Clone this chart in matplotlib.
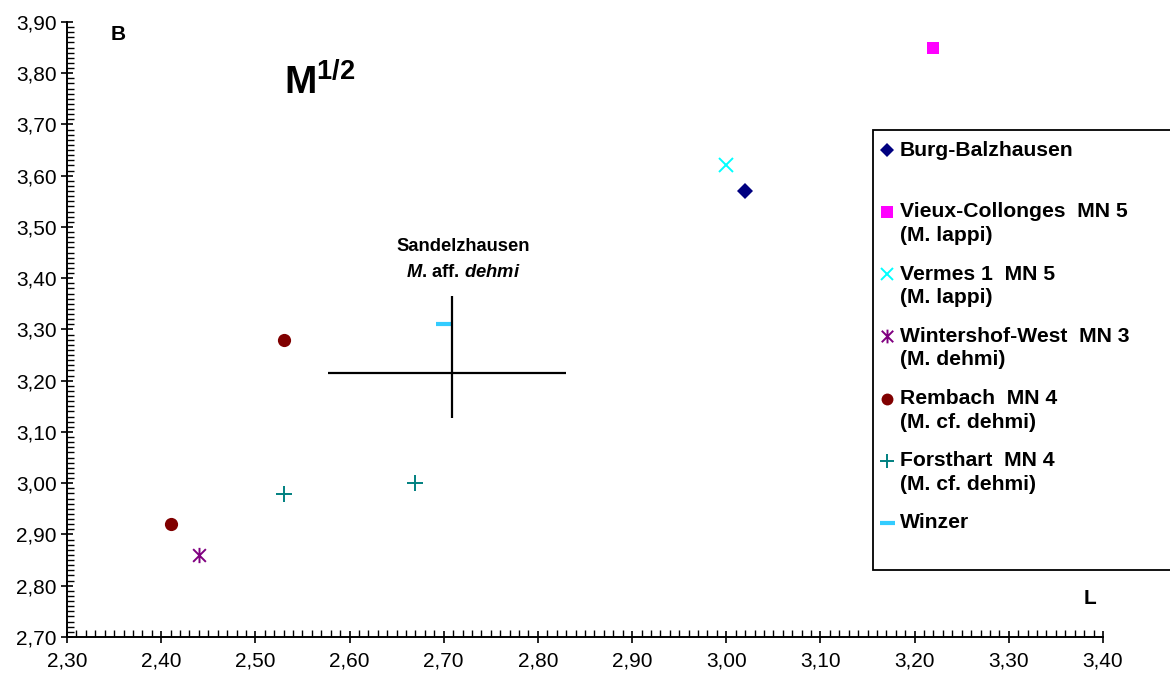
import matplotlib
matplotlib.use("Agg")
import matplotlib.pyplot as plt
from matplotlib.ticker import MultipleLocator, FuncFormatter
from matplotlib.lines import Line2D
from matplotlib.patches import Rectangle
from matplotlib.path import Path

plt.rcParams['font.family'] = ['Liberation Sans', 'DejaVu Sans']
plt.rcParams['mathtext.fontset'] = 'custom'
plt.rcParams['mathtext.rm'] = 'Liberation Sans'
plt.rcParams['mathtext.bf'] = 'Liberation Sans:bold'
plt.rcParams['mathtext.it'] = 'Liberation Sans:italic:bold'

# data (L, B) per locality
burg_x = [3.02]
burg_y = [3.57]
vieux_x = [3.22]
vieux_y = [3.85]
vermes_x = [3.00]
vermes_y = [3.62]
winters_x = [2.44]
winters_y = [2.86]
rembach_x = [2.41, 2.53]
rembach_y = [2.92, 3.28]
forst_x = [2.53, 2.67]
forst_y = [2.98, 3.00]
winzer_x = [2.70]
winzer_y = [3.31]

# Sandelzhausen range cross
sandel_x = 2.709
sandel_y = 3.215
sandel_xerr_low = 0.132
sandel_xerr_high = 0.121
sandel_yerr_low = 0.087
sandel_yerr_high = 0.15

labels = ["Burg-Balzhausen",
          "Vieux-Collonges  MN 5\n(M. lappi)",
          "Vermes 1  MN 5\n(M. lappi)",
          "Wintershof-West  MN 3\n(M. dehmi)",
          "Rembach  MN 4\n(M. cf. dehmi)",
          "Forsthart  MN 4\n(M. cf. dehmi)",
          "Winzer"]

# asterisk marker: X plus vertical bar
ast = Path([(-1, -1), (1, 1), (-1, 1), (1, -1), (0, -1.2), (0, 1.2)],
           [Path.MOVETO, Path.LINETO, Path.MOVETO, Path.LINETO, Path.MOVETO, Path.LINETO])

series = [
    (burg_x, burg_y, dict(marker='D', color='#000080', ms=8, mew=0)),
    (vieux_x, vieux_y, dict(marker='s', color='#FF00FF', ms=9, mew=0)),
    (vermes_x, vermes_y, dict(marker='x', color='#00FFFF', ms=10, mew=1.4)),
    (winters_x, winters_y, dict(marker=ast, color='#800080', ms=11, mew=1.4)),
    (rembach_x, rembach_y, dict(marker='o', color='#800000', ms=9.5, mew=0)),
    (forst_x, forst_y, dict(marker='+', color='#008080', ms=11, mew=1.4)),
    (winzer_x, winzer_y, dict(marker='_', color='#33CCFF', ms=12, mew=3)),
]

W, H = 1170, 677
fig = plt.figure(figsize=(W / 100, H / 100), dpi=100)
ax = fig.add_axes([67 / W, 1 - 637 / H, (1103 - 67) / W, (637 - 22) / H])


def px(x, y):
    return x / W, 1 - y / H


for xs, ys, st in series:
    ax.plot(xs, ys, linestyle='none', **st)

ax.errorbar([sandel_x], [sandel_y], xerr=[[sandel_xerr_low], [sandel_xerr_high]],
            yerr=[[sandel_yerr_low], [sandel_yerr_high]],
            fmt='none', ecolor='black', elinewidth=1.6, capsize=0)

ax.set_xlim(2.30, 3.40)
ax.set_ylim(2.70, 3.90)
ax.xaxis.set_major_locator(MultipleLocator(0.1))
ax.yaxis.set_major_locator(MultipleLocator(0.1))
ax.xaxis.set_minor_locator(MultipleLocator(0.01))
ax.yaxis.set_minor_locator(MultipleLocator(0.01))
fmt = FuncFormatter(lambda v, p: f"{v:.2f}".replace('.', ','))
ax.xaxis.set_major_formatter(fmt)
ax.yaxis.set_major_formatter(fmt)
ax.tick_params(which='major', direction='inout', length=9, width=1.2, labelsize=15)
ax.tick_params(which='minor', direction='in', length=5, width=1.0)
ax.tick_params(axis='x', which='major', pad=6)
ax.tick_params(axis='y', which='major', pad=3)
for s in ['top', 'right']:
    ax.spines[s].set_visible(False)
for s in ['left', 'bottom']:
    ax.spines[s].set_linewidth(1.4)

ax.text(2.354, 3.875, "B", fontsize=15, fontweight='bold', ha='center', va='center')
ax.text(3.386, 2.776, "L", fontsize=15, fontweight='bold', ha='center', va='center')
ax.text(2.530, 3.781, r"M$^{\mathbf{1/2}}$", fontsize=28, fontweight='bold', ha='left', va='center')
ax.text(2.721, 3.461, "Sandelzhausen", fontsize=13.2, fontweight='bold', ha='center', va='center')
ax.text(2.721, 3.412, r"$M$. aff. $dehmi$", fontsize=13.2, fontweight='bold', ha='center', va='center')

# legend box
fig.add_artist(Rectangle(px(873, 570), (1190 - 873) / W, 440 / H, transform=fig.transFigure,
                         facecolor='white', edgecolor='black', lw=1.3, clip_on=False))
for i, (lab, (xs, ys, st)) in enumerate(zip(labels, series)):
    yrow = 150 if i == 0 else 212 + (i - 1) * 62.2
    lst = dict(st)
    lst['ms'] = lst['ms'] * 0.9
    fig.add_artist(Line2D([px(887, yrow)[0]], [px(887, yrow)[1]], transform=fig.transFigure,
                          linestyle='none', **lst))
    for j, line in enumerate(lab.split("\n")):
        x0, y0 = px(900, yrow + j * 23.5)
        fig.text(x0, y0, line, fontsize=15.2, fontweight='bold', ha='left', va='center')

fig.savefig("out.png", dpi=100)
